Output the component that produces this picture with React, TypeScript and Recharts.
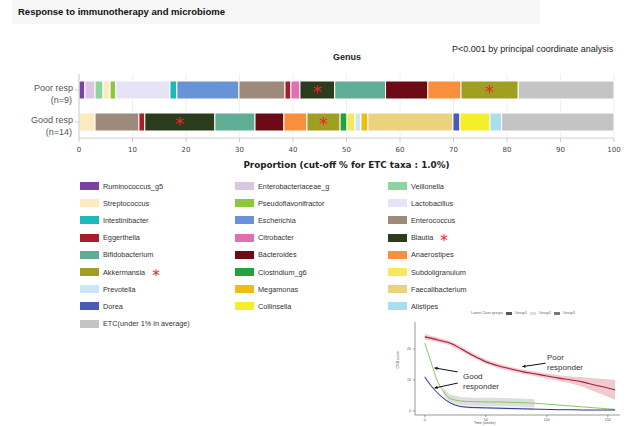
import {
  BarChart,
  Bar,
  XAxis,
  YAxis,
  CartesianGrid,
  LabelList,
  ComposedChart,
  Line,
  Area,
  ReferenceLine,
} from "recharts";

// genus composition (% of reads)
const genera = [
  "Ruminococcus_g5",
  "Enterobacteriaceae_g",
  "Veillonella",
  "Streptococcus",
  "Pseudoflavonifractor",
  "Lactobacillus",
  "Intestinibacter",
  "Escherichia",
  "Enterococcus",
  "Eggerthella",
  "Citrobacter",
  "Blautia",
  "Bifidobacterium",
  "Bacteroides",
  "Anaerostipes",
  "Akkermansia",
  "Clostridium_g6",
  "Subdoligranulum",
  "Prevotella",
  "Megamonas",
  "Faecalibacterium",
  "Dorea",
  "Collinsella",
  "Alistipes",
  "ETC(under 1% in average)",
];

const genusColors = [
  "#7a42a3", "#dcc4e3", "#8fd3a0", "#fdeabf", "#8dc63f",
  "#e5e3f5", "#1db8b8", "#6993d8", "#9d8a7a", "#a71d2a",
  "#e06fb8", "#2a3c1c", "#5fad94", "#6c0b15", "#f98f3c",
  "#a19f22", "#22a13c", "#f7e75a", "#c9e7f8", "#eebd12",
  "#ebd27e", "#4a5ab5", "#f5ee2a", "#a8dfeb", "#c4c4c4",
];

const poorResp = [
  1.1, 1.9, 1.5, 1.3, 1.1, 10.1, 1.3, 11.6, 8.6, 1.1, 1.7, 6.5, 9.5, 7.9, 6.2,
  10.7, 0, 0, 0, 0, 0, 0, 0, 0, 17.9,
];
const goodResp = [
  0, 0, 0, 3.0, 0, 0, 0, 0, 8.2, 1.1, 0, 13.1, 7.5, 5.4, 4.3, 6.2, 1.3, 1.5,
  1.1, 1.3, 15.9, 1.3, 5.6, 2.2, 21.0,
];

const groups = ["Poor resp|(n=9)", "Good resp|(n=14)"];
const starred = ["Blautia", "Akkermansia"];
const proportionTicks = [0, 10, 20, 30, 40, 50, 60, 70, 80, 90, 100];

// inset: latent class trajectories
const weeks = [0, 5, 10, 15, 20, 30, 40, 50, 60, 70, 80, 90, 100, 110, 120, 130, 140, 150, 156];
const poorScore = [23.9, 23.5, 23.0, 22.5, 22.0, 20.0, 17.8, 15.9, 14.6, 13.6, 12.7, 12.0, 11.3, 10.6, 10.0, 9.3, 8.3, 7.4, 6.8];
const goodScoreA = [21.9, 16.0, 10.0, 6.5, 4.2, 3.2, 3.0, 2.9, 2.9, 2.8, 2.7, 2.5, 2.2, 1.9, 1.6, 1.3, 1.0, 0.7, 0.5];
const goodScoreB = [11.0, 8.2, 6.0, 4.2, 2.8, 1.4, 1.1, 1.0, 0.9, 0.8, 0.7, 0.6, 0.5, 0.4, 0.4, 0.3, 0.3, 0.3, 0.3];
const poorSpread = [0.9, 0.8, 0.8, 0.7, 0.7, 0.7, 0.7, 0.7, 0.7, 0.7, 0.7, 0.7, 0.8, 0.9, 1.1, 1.6, 2.2, 2.8, 3.2];
const goodSpreadA = [0, 0, 0, 1.0, 1.2, 1.3, 1.3, 1.4, 1.4, 1.3, 1.3, 1.3, 0, 0, 0, 0, 0, 0, 0];
const goodSpreadB = [0.6, 0.5, 0.4, 0.4, 0.4, 0.4, 0.4, 0.4, 0.4, 0.4, 0.4, 0.4, 0, 0, 0, 0, 0, 0, 0];
const inletTicksX = [0, 50, 100, 150];
const inletTicksY = [0, 10, 20];
// arrows: [fromWeek, fromScore, toWeek, toScore]
const arrows = [
  [99, 15.4, 80, 14.3],
  [27, 12.6, 8, 13.9],
  [27, 9.0, 8, 7.4],
];

const barData = groups.map((group, gi) => {
  const vals = gi === 0 ? poorResp : goodResp;
  const row: any = { group };
  genera.forEach((_, i) => {
    row["g" + i] = vals[i];
  });
  return row;
});

const lineData = weeks.map((t, i) => ({
  t,
  poor: poorScore[i],
  goodA: goodScoreA[i],
  goodB: goodScoreB[i],
  poorBand: [poorScore[i] - poorSpread[i], poorScore[i] + poorSpread[i]],
  goodABand: goodSpreadA[i] ? [goodScoreA[i] - goodSpreadA[i], goodScoreA[i] + goodSpreadA[i]] : null,
  goodBBand: goodSpreadB[i] ? [goodScoreB[i] - goodSpreadB[i], goodScoreB[i] + goodSpreadB[i]] : null,
}));

const GroupTick = ({ x, y, payload }: any) => {
  const [a, b] = String(payload.value).split("|");
  return (
    <g fontFamily="Liberation Sans" fontSize={9} fill="#555">
      <text x={x} y={y + 1} textAnchor="end">{a}</text>
      <text x={x - 1} y={y + 13} textAnchor="end">{b}</text>
    </g>
  );
};

const Star = (props: any) => {
  const { x, y, width, height } = props;
  return (
    <text
      x={x + width / 2}
      y={y + height / 2 + 8}
      textAnchor="middle"
      fontSize={18}
      fill="#e8262b"
      fontFamily="DejaVu Sans"
    >
      *
    </text>
  );
};

const Arrow = (p: any) => {
  const { x1, y1, x2, y2 } = p;
  const a = Math.atan2(y2 - y1, x2 - x1);
  const h = 3.5;
  const pts = [
    [x2, y2],
    [x2 - h * Math.cos(a - 0.5), y2 - h * Math.sin(a - 0.5)],
    [x2 - h * Math.cos(a + 0.5), y2 - h * Math.sin(a + 0.5)],
  ];
  return (
    <g>
      <line x1={x1} y1={y1} x2={x2} y2={y2} stroke="#111" strokeWidth={1} />
      <polygon points={pts.map((q) => q.join(",")).join(" ")} fill="#111" />
    </g>
  );
};

const App = () => {
  return (
    <div
      style={{
        position: "absolute",
        left: 0,
        top: 0,
        width: 628,
        height: 426,
        background: "#fff",
        fontFamily: "Liberation Sans",
        overflow: "hidden",
      }}
    >
      <div
        style={{
          position: "absolute",
          left: 12,
          top: 0,
          width: 528,
          height: 24,
          background: "#f6f6f6",
        }}
      />
      <div
        style={{
          position: "absolute",
          left: 18,
          top: 6,
          fontSize: 9.5,
          fontWeight: "bold",
          color: "#111",
          whiteSpace: "nowrap",
        }}
      >
        Response to immunotherapy and microbiome
      </div>
      <div
        style={{
          position: "absolute",
          left: 452,
          top: 44,
          fontSize: 9,
          color: "#222",
          whiteSpace: "nowrap",
        }}
      >
        P&lt;0.001 by principal coordinate analysis
      </div>
      <div
        style={{
          position: "absolute",
          left: 297,
          width: 100,
          textAlign: "center",
          top: 52,
          fontSize: 9,
          fontWeight: "bold",
          color: "#222",
        }}
      >
        Genus
      </div>

      <div style={{ position: "absolute", left: 0, top: 0 }}>
        <BarChart
          width={628}
          height={180}
          data={barData}
          layout="vertical"
          margin={{ top: 74, right: 14, left: 0, bottom: 2 }}
        >
          <CartesianGrid horizontal={false} stroke="#f0f0f0" />
          <XAxis
            type="number"
            domain={[0, 100]}
            ticks={proportionTicks}
            height={40}
            axisLine={{ stroke: "#cfcfcf" }}
            tickLine={{ stroke: "#cfcfcf" }}
            tickSize={4}
            tickMargin={5}
            tick={{ fontSize: 7, fill: "#444", fontFamily: "DejaVu Sans" }}
            label={{
              value: "Proportion (cut-off % for ETC taxa : 1.0%)",
              position: "insideBottom",
              offset: 10,
              fontSize: 8.8,
              fontWeight: "bold",
              fill: "#222",
              fontFamily: "DejaVu Sans",
            }}
          />
          <YAxis
            type="category"
            dataKey="group"
            width={79}
            axisLine={{ stroke: "#cfcfcf" }}
            tickLine={{ stroke: "#cfcfcf" }}
            tickSize={4}
            tick={<GroupTick />}
          />
          {genera.map((name, i) => (
            <Bar
              key={name}
              dataKey={"g" + i}
              name={name}
              stackId="a"
              fill={genusColors[i]}
              stroke="#fff"
              strokeWidth={1}
              barSize={18}
              isAnimationActive={false}
            >
              {starred.includes(name) && <LabelList content={<Star />} />}
            </Bar>
          ))}
        </BarChart>
      </div>

      {genera.map((name, i) => {
        const col = i % 3;
        const row = Math.floor(i / 3);
        const left = [80, 235, 388][col];
        const cy = 186 + row * 17.2;
        return (
          <div
            key={name}
            style={{
              position: "absolute",
              left,
              top: cy - 5,
              height: 10,
              display: "flex",
              alignItems: "center",
              whiteSpace: "nowrap",
            }}
          >
            <div
              style={{
                width: 19,
                height: 8,
                background: genusColors[i],
                marginRight: 4,
              }}
            />
            <span style={{ fontSize: 7.3, color: "#333" }}>{name}</span>
            {starred.includes(name) && (
              <span
                style={{
                  fontSize: 15,
                  color: "#e8262b",
                  marginLeft: 7,
                  marginTop: 7,
                  fontFamily: "DejaVu Sans",
                }}
              >
                *
              </span>
            )}
          </div>
        );
      })}

      <div
        style={{
          position: "absolute",
          left: 471,
          top: 311,
          fontSize: 3.6,
          color: "#666",
          whiteSpace: "nowrap",
          display: "flex",
          alignItems: "center",
          gap: 3,
        }}
      >
        <span>Latent Class groups</span>
        <span style={{ display: "inline-block", width: 6, height: 3, background: "#555" }} />
        <span>Group1</span>
        <span style={{ display: "inline-block", width: 6, height: 3, background: "#ddd" }} />
        <span>Group2</span>
        <span style={{ display: "inline-block", width: 6, height: 3, background: "#777" }} />
        <span>Group3</span>
      </div>

      <div style={{ position: "absolute", left: 380, top: 305 }}>
        <ComposedChart
          width={245}
          height={121}
          data={lineData}
          margin={{ top: 17, right: 5, left: 0, bottom: 0 }}
        >
          <XAxis
            type="number"
            dataKey="t"
            domain={[-8, 160]}
            ticks={inletTicksX}
            height={11}
            axisLine={{ stroke: "#555", strokeWidth: 0.6 }}
            tickLine={{ stroke: "#555", strokeWidth: 0.6 }}
            tickSize={2}
            tickMargin={1}
            tick={{ fontSize: 3.6, fill: "#555" }}
          />
          <YAxis
            type="number"
            domain={[-1.3, 28.7]}
            ticks={inletTicksY}
            width={35}
            axisLine={{ stroke: "#555", strokeWidth: 0.6 }}
            tickLine={{ stroke: "#555", strokeWidth: 0.6 }}
            tickSize={2}
            tick={{ fontSize: 3.6, fill: "#555" }}
            label={{
              value: "CNB score",
              angle: -90,
              position: "insideLeft",
              offset: 18,
              fontSize: 3.6,
              fill: "#555",
            }}
          />
          <Area
            dataKey="poorBand"
            stroke="none"
            fill="#e9b3b9"
            fillOpacity={0.7}
            isAnimationActive={false}
          />
          <Area
            dataKey="goodABand"
            stroke="none"
            fill="#d3d8d3"
            fillOpacity={0.8}
            isAnimationActive={false}
          />
          <Area
            dataKey="goodBBand"
            stroke="none"
            fill="#dcdce6"
            fillOpacity={0.8}
            isAnimationActive={false}
          />
          <Line
            dataKey="poor"
            stroke="#a81c3c"
            strokeWidth={1.1}
            dot={false}
            type="monotone"
            isAnimationActive={false}
          />
          <Line
            dataKey="goodA"
            stroke="#8cc46a"
            strokeWidth={1}
            dot={false}
            type="monotone"
            isAnimationActive={false}
          />
          <Line
            dataKey="goodB"
            stroke="#28358a"
            strokeWidth={1}
            dot={false}
            type="monotone"
            isAnimationActive={false}
          />
          {arrows.map((a, i) => (
            <ReferenceLine
              key={i}
              segment={[
                { x: a[0], y: a[1] },
                { x: a[2], y: a[3] },
              ]}
              shape={Arrow}
            />
          ))}
        </ComposedChart>
      </div>

      <div
        style={{
          position: "absolute",
          left: 474,
          top: 421,
          fontSize: 3.6,
          color: "#555",
          whiteSpace: "nowrap",
        }}
      >
        Time (weeks)
      </div>
      <div
        style={{
          position: "absolute",
          left: 547,
          top: 353,
          fontSize: 8,
          lineHeight: "10px",
          color: "#333",
        }}
      >
        Poor
        <br />
        responder
      </div>
      <div
        style={{
          position: "absolute",
          left: 463,
          top: 372,
          fontSize: 8,
          lineHeight: "10px",
          color: "#333",
        }}
      >
        Good
        <br />
        responder
      </div>
    </div>
  );
};

export default App;
